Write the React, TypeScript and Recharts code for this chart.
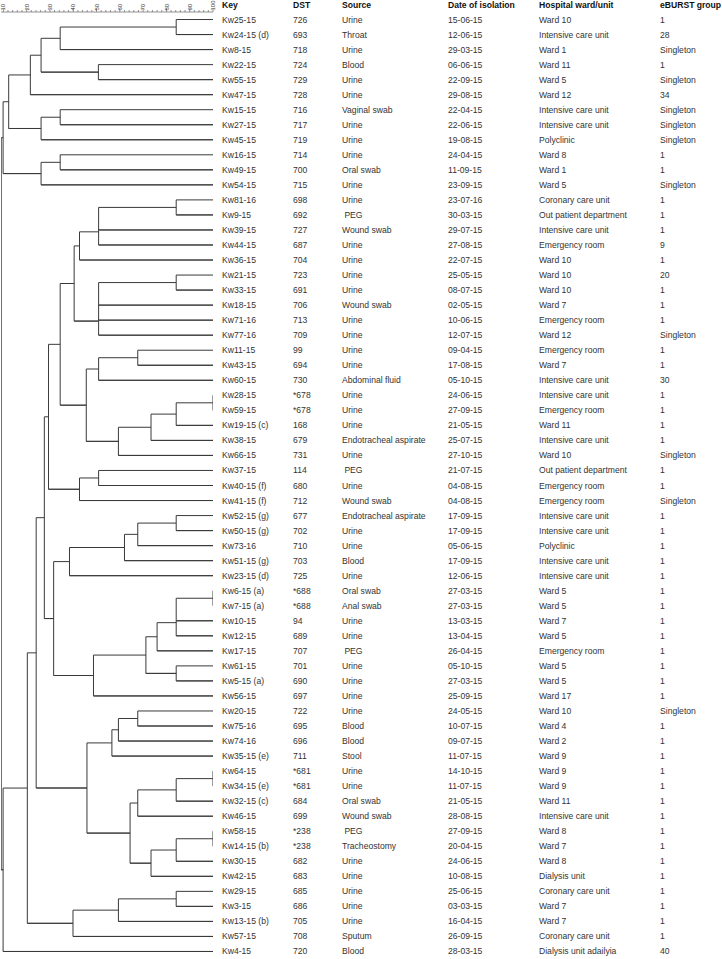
import { ScatterChart, Scatter, XAxis, YAxis } from 'recharts';

// table rows, top to bottom in dendrogram order
const keys = ['Kw25-15', 'Kw24-15 (d)', 'Kw8-15', 'Kw22-15', 'Kw55-15', 'Kw47-15', 'Kw15-15', 'Kw27-15', 'Kw45-15', 'Kw16-15', 'Kw49-15', 'Kw54-15', 'Kw81-16', 'Kw9-15', 'Kw39-15', 'Kw44-15', 'Kw36-15', 'Kw21-15', 'Kw33-15', 'Kw18-15', 'Kw71-16', 'Kw77-16', 'Kw11-15', 'Kw43-15', 'Kw60-15', 'Kw28-15', 'Kw59-15', 'Kw19-15 (c)', 'Kw38-15', 'Kw66-15', 'Kw37-15', 'Kw40-15 (f)', 'Kw41-15 (f)', 'Kw52-15 (g)', 'Kw50-15 (g)', 'Kw73-16', 'Kw51-15 (g)', 'Kw23-15 (d)', 'Kw6-15 (a)', 'Kw7-15 (a)', 'Kw10-15', 'Kw12-15', 'Kw17-15', 'Kw61-15', 'Kw5-15 (a)', 'Kw56-15', 'Kw20-15', 'Kw75-16', 'Kw74-16', 'Kw35-15 (e)', 'Kw64-15', 'Kw34-15 (e)', 'Kw32-15 (c)', 'Kw46-15', 'Kw58-15', 'Kw14-15 (b)', 'Kw30-15', 'Kw42-15', 'Kw29-15', 'Kw3-15', 'Kw13-15 (b)', 'Kw57-15', 'Kw4-15'];

const dst = ['726', '693', '718', '724', '729', '728', '716', '717', '719', '714', '700', '715', '698', '692', '727', '687', '704', '723', '691', '706', '713', '709', '99', '694', '730', '*678', '*678', '168', '679', '731', '114', '680', '712', '677', '702', '710', '703', '725', '*688', '*688', '94', '689', '707', '701', '690', '697', '722', '695', '696', '711', '*681', '*681', '684', '699', '*238', '*238', '682', '683', '685', '686', '705', '708', '720'];

const sources = ['Urine', 'Throat', 'Urine', 'Blood', 'Urine', 'Urine', 'Vaginal swab', 'Urine', 'Urine', 'Urine', 'Oral swab', 'Urine', 'Urine', ' PEG', 'Wound swab', 'Urine', 'Urine', 'Urine', 'Urine', 'Wound swab', 'Urine', 'Urine', 'Urine', 'Urine', 'Abdominal fluid', 'Urine', 'Urine', 'Urine', 'Endotracheal aspirate', 'Urine', ' PEG', 'Urine', 'Wound swab', 'Endotracheal aspirate', 'Urine', 'Urine', 'Blood', 'Urine', 'Oral swab', 'Anal swab', 'Urine', 'Urine', ' PEG', 'Urine', 'Urine', 'Urine', 'Urine', 'Blood', 'Blood', 'Stool', 'Urine', 'Urine', 'Oral swab', 'Wound swab', ' PEG', 'Tracheostomy', 'Urine', 'Urine', 'Urine', 'Urine', 'Urine', 'Sputum', 'Blood'];

const dates = ['15-06-15', '12-06-15', '29-03-15', '06-06-15', '22-09-15', '29-08-15', '22-04-15', '22-06-15', '19-08-15', '24-04-15', '11-09-15', '23-09-15', '23-07-16', '30-03-15', '29-07-15', '27-08-15', '22-07-15', '25-05-15', '08-07-15', '02-05-15', '10-06-15', '12-07-15', '09-04-15', '17-08-15', '05-10-15', '24-06-15', '27-09-15', '21-05-15', '25-07-15', '27-10-15', '21-07-15', '04-08-15', '04-08-15', '17-09-15', '17-09-15', '05-06-15', '17-09-15', '12-06-15', '27-03-15', '27-03-15', '13-03-15', '13-04-15', '26-04-15', '05-10-15', '27-03-15', '25-09-15', '24-05-15', '10-07-15', '09-07-15', '11-07-15', '14-10-15', '11-07-15', '21-05-15', '28-08-15', '27-09-15', '20-04-15', '24-06-15', '10-08-15', '25-06-15', '03-03-15', '16-04-15', '26-09-15', '28-03-15'];

const wards = ['Ward 10', 'Intensive care unit', 'Ward 1', 'Ward 11', 'Ward 5', 'Ward 12', 'Intensive care unit', 'Intensive care unit', 'Polyclinic', 'Ward 8', 'Ward 1', 'Ward 5', 'Coronary care unit', 'Out patient department', 'Intensive care unit', 'Emergency room', 'Ward 10', 'Ward 10', 'Ward 10', 'Ward 7', 'Emergency room', 'Ward 12', 'Emergency room', 'Ward 7', 'Intensive care unit', 'Intensive care unit', 'Emergency room', 'Ward 11', 'Intensive care unit', 'Ward 10', 'Out patient department', 'Emergency room', 'Emergency room', 'Intensive care unit', 'Intensive care unit', 'Polyclinic', 'Intensive care unit', 'Intensive care unit', 'Ward 5', 'Ward 5', 'Ward 7', 'Ward 5', 'Emergency room', 'Ward 5', 'Ward 5', 'Ward 17', 'Ward 10', 'Ward 4', 'Ward 2', 'Ward 9', 'Ward 9', 'Ward 9', 'Ward 11', 'Intensive care unit', 'Ward 8', 'Ward 7', 'Ward 8', 'Dialysis unit', 'Coronary care unit', 'Ward 7', 'Ward 7', 'Coronary care unit', 'Dialysis unit adailyia'];

const groups = ['1', '28', 'Singleton', '1', 'Singleton', '34', 'Singleton', 'Singleton', 'Singleton', '1', '1', 'Singleton', '1', '1', '1', '9', '1', '20', '1', '1', '1', 'Singleton', '1', '1', '30', '1', '1', '1', '1', 'Singleton', '1', '1', 'Singleton', '1', '1', '1', '1', '1', '1', '1', '1', '1', '1', '1', '1', '1', 'Singleton', '1', '1', '1', '1', '1', '1', '1', '1', '1', '1', '1', '1', '1', '1', '1', '40'];

const headers = ['Key', 'DST', 'Source', 'Date of isolation', 'Hospital ward/unit', 'eBURST group'];

// clusters: [id, children (row index or cluster id, top to bottom), similarity %]
const merges: [string, (number | string)[], number][] = [
  ['a1', [0, 1], 84.2],
  ['a2', ['a1', 2], 34.4],
  ['a3', [3, 4], 50.8],
  ['a4', ['a2', 'a3'], 26.2],
  ['a5', ['a4', 5], 21.6],
  ['a6', [6, 7], 34.4],
  ['a7', ['a6', 8], 26.2],
  ['a8', ['a5', 'a7'], 12.3],
  ['a9', [9, 10], 34.4],
  ['a10', ['a9', 11], 26.2],
  ['a11', ['a8', 'a10'], 9.9],
  ['b1', [12, 13], 84.2],
  ['b2', ['b1', 14, 15], 50.9],
  ['b3', ['b2', 16], 42.7],
  ['b4', [17, 18], 84.2],
  ['b5', ['b4', 19, 20, 21], 50.9],
  ['b6', ['b3', 'b5'], 40.4],
  ['b7', [22, 23], 67.7],
  ['b8', ['b7', 24], 50.9],
  ['b9', [25, 26], 100],
  ['b10', ['b9', 27], 84.2],
  ['b11', ['b10', 28], 73.4],
  ['b12', ['b11', 29], 59.4],
  ['b13', ['b8', 'b12'], 45.6],
  ['b14', ['b6', 'b13'], 34.4],
  ['b15', [30, 31], 50.9],
  ['b16', ['b15', 32], 42.7],
  ['b17', ['b14', 'b16'], 29.4],
  ['b18', [33, 34], 84.2],
  ['b19', ['b18', 35], 67.7],
  ['b20', ['b19', 36], 62.0],
  ['b21', ['b20', 37], 38.4],
  ['b22', [38, 39], 100],
  ['b23', ['b22', 40, 41], 84.2],
  ['b24', ['b23', 42], 76.0],
  ['b25', [43, 44], 84.2],
  ['b26', ['b24', 'b25'], 71.2],
  ['b27', ['b26', 45], 48.7],
  ['b28', ['b21', 'b27'], 31.6],
  ['b29', ['b17', 'b28'], 27.6],
  ['c1', [46, 47], 67.7],
  ['c2', ['c1', 48], 59.4],
  ['c3', ['c2', 49], 56.6],
  ['c4', [50, 51], 100],
  ['c5', ['c4', 52], 84.2],
  ['c6', ['c5', 53], 67.7],
  ['c7', [54, 55], 100],
  ['c8', ['c7', 56], 84.2],
  ['c9', ['c8', 57], 73.4],
  ['c10', ['c6', 'c9'], 64.4],
  ['c11', ['c3', 'c10'], 45.9],
  ['c12', ['b29', 'c11'], 24.1],
  ['d1', [58, 59], 84.2],
  ['d2', ['d1', 60], 59.4],
  ['d3', ['d2', 61], 39.9],
  ['d4', ['c12', 'd3'], 20.3],
  ['d5', ['d4', 62], 9.9],
  ['root', ['a11', 'd5'], 9.1],
];

const majorTicks = [10, 20, 30, 40, 50, 60, 70, 80, 90, 100];
const axisTicks: number[] = [];
for (let v = 10; v <= 100; v += 2) axisTicks.push(v);
const rowTicks = keys.map((_, i) => i + 1);

const colX = [222, 293, 342, 448, 539, 660];
const FONT = 'Liberation Sans, Arial, sans-serif';
const LINE = '#3a3a3a';

// elbow paths for every cluster, each child joined at its own height
function buildBranches() {
  const pos: Record<string, { s: number; y: number }> = {};
  const place = (c: number | string) =>
    typeof c === 'number' ? { s: 100, y: c + 1 } : pos[c];
  return merges.map(([id, kids, s]) => {
    const ps = kids.map(place);
    let yc = ps[0].y;
    for (let k = 1; k < ps.length; k++) yc = (yc + ps[k].y) / 2;
    pos[id] = { s, y: yc };
    const pts: { x: number; y: number }[] = [];
    ps.forEach((p, k) => {
      if (k > 0) pts.push({ x: s, y: p.y });
      pts.push({ x: p.s, y: p.y });
      pts.push({ x: s, y: p.y });
    });
    return { id, pts };
  });
}

const branches = buildBranches();

const NoDot = () => <g />;

const ScaleTick = (props: any) => {
  const { x, payload } = props;
  const v = payload.value;
  const major = majorTicks.includes(v);
  return (
    <g>
      <line x1={x} x2={x} y1={12} y2={major ? 8.5 : 10} stroke="#777" strokeWidth={0.8} />
      {major && (
        <text
          x={x}
          y={10.5}
          transform={`rotate(-90 ${x} 10.5)`}
          textAnchor="start"
          dy="0.35em"
          fontSize={6}
          fontFamily={FONT}
          fill="#444"
        >
          {v}
        </text>
      )}
    </g>
  );
};

const RowTick = (props: any) => {
  const { y, payload } = props;
  const i = payload.value - 1;
  const cells = [keys[i], dst[i], sources[i], dates[i], wards[i], groups[i]];
  return (
    <g fontFamily={FONT} fontSize={8.6} fill="#333">
      {i === 0 &&
        headers.map((h, k) => (
          <text key={'h' + k} x={colX[k]} y={5} dy="0.35em" fontWeight="bold" fill="#111">
            {h}
          </text>
        ))}
      {cells.map((c, k) => (
        <text key={k} x={colX[k]} y={y} dy="0.35em" style={{ whiteSpace: 'pre' }}>
          {c}
        </text>
      ))}
    </g>
  );
};

export default function App() {
  return (
    <div style={{ position: 'absolute', left: 0, top: 0, background: '#fff' }}>
      <ScatterChart width={722} height={959} margin={{ top: 0, right: 0, bottom: 0, left: 1 }}>
        <XAxis
          type="number"
          dataKey="x"
          domain={[9, 100]}
          orientation="top"
          ticks={axisTicks}
          interval={0}
          tick={<ScaleTick />}
          tickLine={false}
          axisLine={{ stroke: '#777', strokeWidth: 0.8 }}
          height={12}
          allowDataOverflow
        />
        <YAxis
          type="number"
          dataKey="y"
          domain={[0.5, 63.5]}
          reversed
          orientation="right"
          ticks={rowTicks}
          interval={0}
          tick={<RowTick />}
          tickLine={false}
          axisLine={false}
          width={509}
          allowDataOverflow
        />
        {branches.map((b) => (
          <Scatter
            key={b.id}
            data={b.pts}
            line={{ stroke: LINE, strokeWidth: 1 }}
            lineType="joint"
            shape={NoDot}
            fill={LINE}
            isAnimationActive={false}
          />
        ))}
      </ScatterChart>
    </div>
  );
}
